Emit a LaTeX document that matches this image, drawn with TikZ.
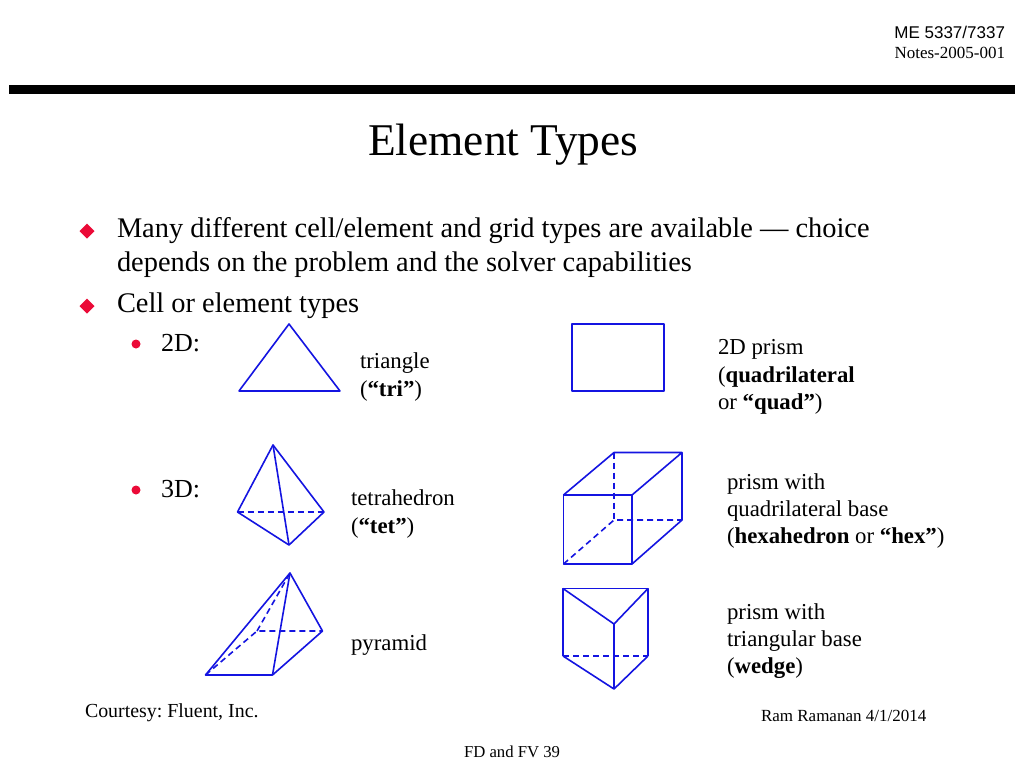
\documentclass[tikz,border=0pt]{standalone}
\usepackage{fontspec}
\setmainfont{Liberation Serif}
\newfontfamily\headfont{Liberation Sans}
\definecolor{wireblue}{RGB}{20,20,225}
\definecolor{bulletred}{RGB}{235,10,55}
\tikzset{
    wire/.style={draw=wireblue, line width=1.6pt, line join=round},
    hidden/.style={wire, dash pattern=on 6pt off 4pt},
    txt/.style={anchor=base west, inner sep=0pt, outer sep=0pt},
    bodytxt/.style={txt, font=\fontsize{28.4}{30}\selectfont},
    subtxt/.style={txt, font=\fontsize{26}{28}\selectfont},
    labeltxt/.style={txt, font=\fontsize{22.8}{24}\selectfont},
    smalltxt/.style={txt, font=\fontsize{17}{20}\selectfont},
}
\frenchspacing
\begin{document}
\begin{tikzpicture}[x=1pt,y=-1pt]
        \useasboundingbox (0,0) rectangle (1024,768);
        \fill[white] (0,0) rectangle (1024,768);

        % header
        \node[txt, anchor=base east, font=\headfont\fontsize{17}{18}\selectfont] (course) at (1005,39) {ME 5337/7337};
        \node[txt, anchor=base east, font=\fontsize{17}{18}\selectfont] (notes) at (1005,59) {Notes-2005-001};
        \fill[black] (9,85) rectangle (1015,94);
        \node[txt, font=\fontsize{45.4}{48}\selectfont] (title) at (368,155) {Element Types};

        % bullets
        \fill[bulletred] (87,223.5) -- (94.5,231) -- (87,238.5) -- (79.5,231) -- cycle;
        \fill[bulletred] (87,298.5) -- (94.5,306) -- (87,313.5) -- (79.5,306) -- cycle;
        \fill[bulletred] (136,344) circle (4.5);
        \fill[bulletred] (136,490) circle (4.5);

        \node[bodytxt] (many) at (117,237.5) {Many different cell/element and grid types are available — choice};
        \node[bodytxt] (depends) at (117,271) {depends on the problem and the solver capabilities};
        \node[bodytxt] (cell) at (117,312.5) {Cell or element types};
        \node[subtxt] (twod) at (161,351) {2D:};
        \node[subtxt] (threed) at (161,497) {3D:};

        % triangle
        \draw[wire] (289,324) -- (340,391) -- (239,391) -- cycle;
        \node[labeltxt] (tri1) at (360,368) {triangle};
        \node[labeltxt] (tri2) at (360,396) {(\textbf{“tri”})};

        % quad
        \draw[wire] (572,324) rectangle (664,391);
        \node[labeltxt] (quad1) at (718,354) {2D prism};
        \node[labeltxt] (quad2) at (718,382) {(\textbf{quadrilateral}};
        \node[labeltxt] (quad3) at (718,409) {or \textbf{“quad”})};

        % tet
        \draw[wire] (273,445) -- (237.5,512) -- (289,545) -- (324,512) -- cycle;
        \draw[wire] (273,445) -- (289,545);
        \draw[hidden] (237.5,512) -- (324,512);
        \node[labeltxt] (tet1) at (351,505) {tetrahedron};
        \node[labeltxt] (tet2) at (351,533) {(\textbf{“tet”})};

        % pyramid
        \draw[wire] (290,573) -- (205.5,675) -- (272.5,675) -- (322.5,631) -- cycle;
        \draw[wire] (290,573) -- (272.5,675);
        \draw[hidden] (205.5,675) -- (257,631) -- (322.5,631);
        \draw[hidden] (257,631) -- (290,573);
        \node[labeltxt] (pyr) at (351,650) {pyramid};

        % hex
        \draw[wire] (563.5,495) rectangle (632,564);
        \draw[wire] (563.5,495) -- (614,452.5) -- (682,452.5) -- (632,495);
        \draw[wire] (682,452.5) -- (682,520) -- (632,564);
        \draw[hidden] (614,452.5) -- (614,520);
        \draw[hidden] (563.5,564) -- (614,520) -- (682,520);
        \node[labeltxt] (hex1) at (727,489) {prism with};
        \node[labeltxt] (hex2) at (727,516) {quadrilateral base};
        \node[labeltxt] (hex3) at (727,543) {(\textbf{hexahedron} or \textbf{“hex”})};

        % wedge
        \draw[wire] (563,656) -- (563,588.5) -- (648,588.5) -- (648,656);
        \draw[wire] (563,588.5) -- (614,624) -- (648,588.5);
        \draw[wire] (563,656) -- (614,689) -- (648,656);
        \draw[wire] (614,624) -- (614,689);
        \draw[hidden] (563,656) -- (648,656);
        \node[labeltxt] (wedge1) at (727,619) {prism with};
        \node[labeltxt] (wedge2) at (727,646) {triangular base};
        \node[labeltxt] (wedge3) at (727,673) {(\textbf{wedge})};

        % footer
        \node[txt, font=\fontsize{19.9}{22}\selectfont] (courtesy) at (85,717) {Courtesy: Fluent, Inc.};
        \node[smalltxt] (ram) at (761,721) {Ram Ramanan 4/1/2014};
        \node[smalltxt, font=\fontsize{16.7}{20}\selectfont] (page) at (464,757) {FD and FV 39};
    \end{tikzpicture}
\end{document}
